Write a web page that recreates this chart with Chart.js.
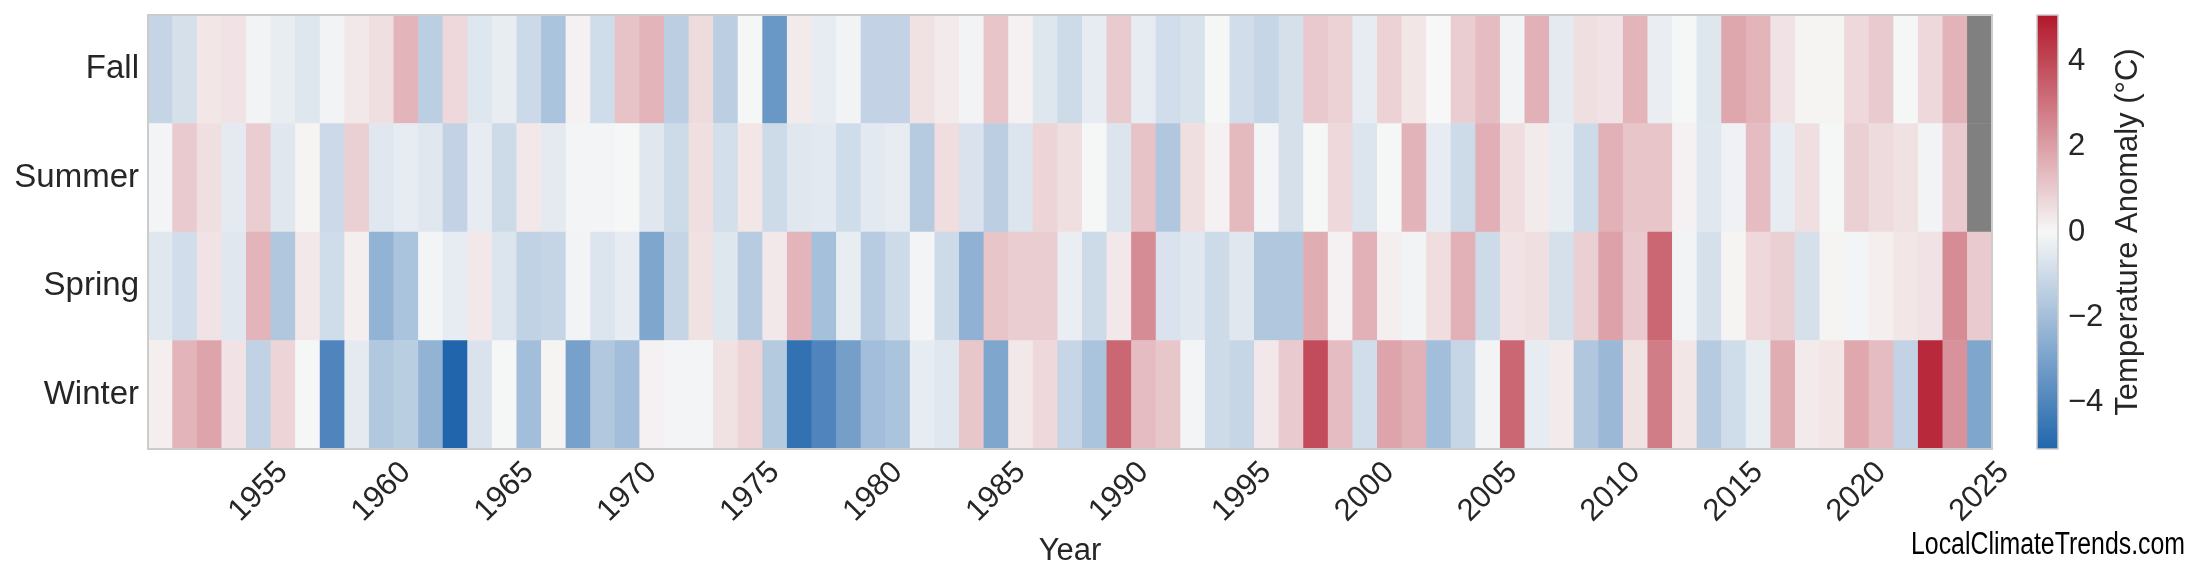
<!DOCTYPE html>
<html>
<head>
<meta charset="utf-8">
<script src="https://cdn.jsdelivr.net/npm/chart.js@4.4.1/dist/chart.umd.min.js"></script>
<style>
  html, body { margin: 0; padding: 0; background: #fff; }
  canvas { display: block; }
</style>
</head>
<body>
<canvas id="heatmap" width="2200" height="585"></canvas>
<script>
// seasonal temperature anomalies (°C), one value per year 1951..2025
const years = Array.from({ length: 75 }, (_, i) => 1951 + i);
const seasons = ['Winter', 'Spring', 'Summer', 'Fall']; // bottom row first

const winter = [
  0.2, 1.5, 1.9, 0.45, -1.3, 0.8, -0.05, -4.0, -0.45, -1.65,
  -1.45, -2.4, -5.1, -0.7, -0.05, -2.0, 0.1, -3.05, -1.65, -2.0,
  0.15, -0.1, -0.1, 0.5, 0.8, -1.6, -4.7, -4.0, -3.1, -2.0,
  -1.8, -0.4, -0.55, 1.1, -2.85, 0.35, 0.7, -1.15, -1.8, 3.3,
  1.35, 1.1, -0.1, -1.0, -1.15, 0.35, 1.0, 3.9, 1.35, -0.9,
  1.9, 1.6, -2.0, -1.15, -0.15, 3.3, -0.4, 0.3, -1.7, -2.2,
  0.5, 2.8, 0.4, -1.55, -0.95, -0.35, 1.7, 0.3, 0.4, 1.8,
  1.35, -1.25, 4.7, 2.3, -2.85
];
const spring = [
  -0.55, -0.9, 0.45, -0.55, 1.5, -1.7, 0.35, -0.95, 0.2, -2.4,
  -1.8, -0.1, -0.4, 0.35, -0.65, -1.3, -1.2, -0.15, -0.65, -0.4,
  -2.85, -1.2, 0.5, -0.6, -1.5, 0.35, 1.5, -1.95, -0.35, -1.5,
  -1.0, -0.1, -1.0, -2.45, 1.15, 0.95, 0.95, -0.3, -1.0, 0.35,
  2.45, -0.7, -0.55, -1.0, -0.55, -1.7, -1.7, 1.7, 0.15, 1.6,
  0.2, -0.15, 0.6, 1.6, -1.0, 0.45, 0.55, -0.8, 0.9, 1.95,
  1.05, 3.3, -0.15, -0.8, 0.1, 0.7, 0.9, -0.8, 0.1, -0.1,
  0.2, 0.4, 0.45, 2.45, 1.0
];
const summer = [
  -0.1, 1.0, 0.55, -0.45, 0.95, -0.55, 0.1, -1.05, 0.9, -0.55,
  -0.4, -0.55, -1.25, -0.4, -1.0, 0.35, -0.45, -0.1, -0.1, -0.05,
  -0.55, -1.0, 0.55, -0.85, 0.4, -1.0, -0.55, -0.5, -0.95, -0.5,
  -0.4, -1.55, 0.6, -0.7, -1.4, -0.65, 0.8, 0.55, -0.05, -0.65,
  1.2, -1.7, 0.55, 0.15, 1.4, -0.1, -0.8, -0.05, 0.7, -0.65,
  -0.05, 1.55, -0.4, -1.0, 1.65, 0.6, 0.3, -0.35, -1.0, 1.6,
  1.15, 1.15, 0.15, -0.55, -0.2, 1.35, -0.4, 0.55, -0.05, 0.9,
  0.65, 0.5, -0.15, 1.0, null
];
const fall = [
  -1.2, -0.8, 0.4, 0.45, -0.15, -0.35, -0.6, -0.15, 0.35, 0.55,
  1.5, -1.4, 0.7, -0.6, -0.35, -1.05, -1.8, 0.15, -0.95, 1.2,
  1.5, -1.4, 0.65, -1.4, -0.05, -3.35, 0.3, -0.4, -0.15, -1.25,
  -1.25, 0.5, 0.3, -0.15, 1.15, 0.15, -0.6, -1.0, -0.4, 1.0,
  -0.4, -0.9, -0.75, -0.05, -0.9, -1.15, -0.8, 1.05, 0.85, -0.4,
  0.85, 0.4, 0.0, 0.95, 1.35, -0.15, 1.6, -0.45, 0.55, 0.45,
  1.5, -0.3, -0.05, -0.6, 1.85, 1.5, 0.45, 0.1, 0.1, 0.7,
  1.0, -0.05, 0.7, 1.55, null
];

const xTickYears = [1955, 1960, 1965, 1970, 1975, 1980, 1985, 1990, 1995, 2000, 2005, 2010, 2015, 2020, 2025];
const cbTicks = [-4, -2, 0, 2, 4];
const cbMin = -5.1;
const cbMax = 5.1;

// diverging colormap: blue - near white - red, grey for missing
const colorLow = [33, 102, 172];
const colorMid = [247, 247, 247];
const colorHigh = [178, 24, 43];
const missingColor = '#808080';

function rgb(c) {
  return 'rgb(' + c.map(Math.round).join(',') + ')';
}

function anomalyColor(v) {
  if (v === null || v === undefined) return missingColor;
  let t = v >= 0 ? v / cbMax : v / cbMin;
  t = Math.max(0, Math.min(1, t));
  const end = v >= 0 ? colorHigh : colorLow;
  return rgb(colorMid.map((m, k) => m + (end[k] - m) * t));
}

const rows = [winter, spring, summer, fall];

const datasets = rows.map((vals, r) => ({
  label: seasons[r],
  data: years.map(() => [r, r + 1]),
  backgroundColor: vals.map(anomalyColor),
  borderWidth: 0,
  barPercentage: 1,
  categoryPercentage: 1,
  grouped: false
}));

const FONT = '"Liberation Sans", Arial, sans-serif';
Chart.defaults.font.family = FONT;
Chart.defaults.font.size = 31;
Chart.defaults.color = '#262626';

// vertical axes would otherwise push the plot down by half a label + padding
function fixVertical(width) {
  return s => {
    s.width = width;
    s.paddingTop = 0;
    s.paddingBottom = 0;
  };
}

const extras = {
  id: 'extras',
  afterDraw(chart) {
    const { ctx, chartArea: a, scales } = chart;
    ctx.save();

    // axes frame
    ctx.strokeStyle = '#cccccc';
    ctx.lineWidth = 2;
    ctx.strokeRect(a.left, a.top, a.width, a.height);

    // rotated year labels, centred under their columns
    ctx.fillStyle = '#262626';
    ctx.font = '31px ' + FONT;
    ctx.textAlign = 'center';
    ctx.textBaseline = 'middle';
    xTickYears.forEach(y => {
      const x = scales.x.getPixelForValue(years.indexOf(y));
      ctx.save();
      ctx.translate(x, a.bottom + 43);
      ctx.rotate(-Math.PI / 4);
      ctx.fillText(String(y), 0, 0);
      ctx.restore();
    });

    // colour bar
    const cb = scales.cb;
    const top = cb.getPixelForValue(cbMax);
    const bottom = cb.getPixelForValue(cbMin);
    const grad = ctx.createLinearGradient(0, bottom, 0, top);
    grad.addColorStop(0, rgb(colorLow));
    grad.addColorStop((0 - cbMin) / (cbMax - cbMin), rgb(colorMid));
    grad.addColorStop(1, rgb(colorHigh));
    ctx.fillStyle = grad;
    ctx.fillRect(2037, top, 21, bottom - top);
    ctx.strokeStyle = '#cccccc';
    ctx.lineWidth = 1.5;
    ctx.strokeRect(2037, top, 21, bottom - top);

    // colour bar title
    ctx.save();
    ctx.translate(2128, (top + bottom) / 2);
    ctx.rotate(-Math.PI / 2);
    ctx.fillStyle = '#262626';
    ctx.fillText('Temperature Anomaly (°C)', 0, 0);
    ctx.restore();

    // site credit
    ctx.font = '31px "Liberation Sans Narrow", ' + FONT;
    ctx.fillStyle = '#000000';
    ctx.textAlign = 'right';
    ctx.textBaseline = 'alphabetic';
    const txt = 'LocalClimateTrends.com';
    const w = ctx.measureText(txt).width;
    const sx = Math.min(1, 274 / w);
    ctx.translate(2185, 554);
    ctx.scale(sx, 1);
    ctx.fillText(txt, 0, 0);

    ctx.restore();
  }
};

new Chart(document.getElementById('heatmap'), {
  type: 'bar',
  data: { labels: years, datasets: datasets },
  options: {
    responsive: false,
    animation: false,
    devicePixelRatio: 1,
    layout: { padding: { top: 15, left: 0, right: 0, bottom: 0 } },
    plugins: { legend: { display: false }, tooltip: { enabled: false } },
    scales: {
      x: {
        type: 'category',
        grid: { display: false, drawTicks: false },
        border: { display: false },
        ticks: { display: false },
        title: { display: true, text: 'Year', padding: { top: 0, bottom: 15 } },
        afterFit: s => { s.height = 136; }
      },
      y: {
        type: 'linear',
        position: 'left',
        min: 0,
        max: 4,
        grid: { display: false, drawTicks: false },
        border: { display: false },
        ticks: { padding: 9, font: { size: 33 }, callback: (v, i) => seasons[i] },
        afterBuildTicks: s => { s.ticks = seasons.map((_, i) => ({ value: i + 0.5 })); },
        afterFit: fixVertical(148)
      },
      cb: {
        type: 'linear',
        position: 'right',
        min: cbMin,
        max: cbMax,
        grid: { display: false, drawTicks: false },
        border: { display: false },
        ticks: { padding: 76, callback: v => String(v).replace('-', '\u2212') },
        afterBuildTicks: s => { s.ticks = cbTicks.map(v => ({ value: v })); },
        afterFit: fixVertical(208)
      }
    }
  },
  plugins: [extras]
});
</script>
</body>
</html>
